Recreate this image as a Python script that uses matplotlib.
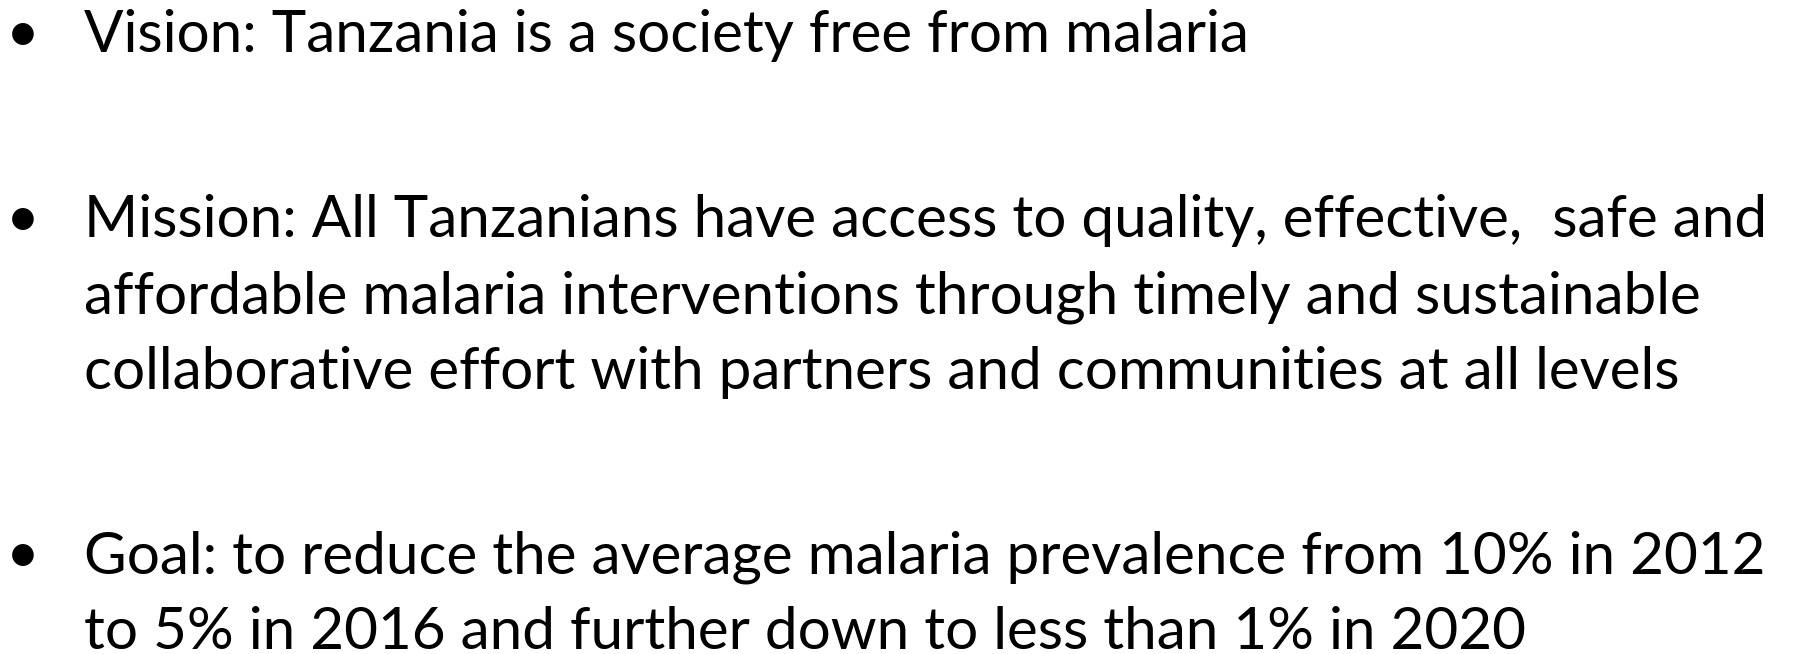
import matplotlib
matplotlib.use("Agg")
import matplotlib.pyplot as plt

# slide text, one list per bullet (already wrapped as on the slide)
vision_lines = ["Vision: Tanzania is a society free from malaria"]
mission_lines = [
    "Mission: All Tanzanians have access to quality, effective,  safe and",
    "affordable malaria interventions through timely and sustainable",
    "collaborative effort with partners and communities at all levels",
]
goal_lines = [
    "Goal: to reduce the average malaria prevalence from 10% in 2012",
    "to 5% in 2016 and further down to less than 1% in 2020",
]
bullets = [vision_lines, mission_lines, goal_lines]

# baseline (pixels from top) of the first line of each bullet
first_baselines = [52, 237, 573]
line_step = 76
W, H = 1799, 654

fig = plt.figure(figsize=(W / 100, H / 100), dpi=100)
fig.patch.set_facecolor("white")

font = "Lato"
size = 42.0

for lines, y0 in zip(bullets, first_baselines):
    fig.text(23 / W, 1 - y0 / H, "\u2022", ha="center", va="baseline",
             fontsize=size, family=font, color="black")
    for i, line in enumerate(lines):
        y = y0 + i * line_step
        fig.text(84 / W, 1 - y / H, line, ha="left", va="baseline",
                 fontsize=size, family=font, color="black")

fig.savefig("out.png", dpi=100, facecolor="white")
